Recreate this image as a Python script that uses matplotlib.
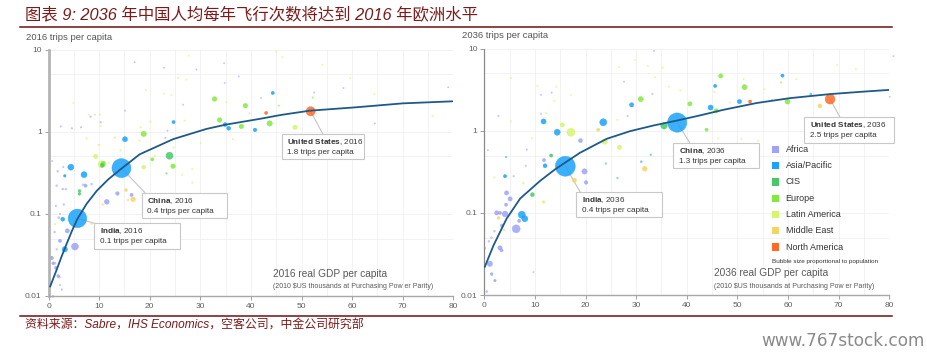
import matplotlib
matplotlib.use("Agg")
import matplotlib.pyplot as plt
from matplotlib.patches import Rectangle
from matplotlib.lines import Line2D
from matplotlib.ticker import NullFormatter
from matplotlib.colors import to_rgba
import numpy as np

plt.rcParams['font.family'] = ['Liberation Sans', 'DejaVu Sans']
plt.rcParams['mathtext.fontset'] = 'custom'
plt.rcParams['mathtext.rm'] = 'Liberation Sans'
plt.rcParams['mathtext.bf'] = 'Liberation Sans:bold'

# ---------------- data ----------------
regions = ['Africa', 'Asia/Pacific', 'CIS', 'Europe', 'Latin America', 'Middle East', 'North America']
region_colors = ['#9ea3f7', '#1aa3fb', '#47c96a', '#82ea3c', '#d6f56e', '#f5d466', '#ff6a28']

# 2016 panel: (GDP per capita k$, trips per capita, population m)
gdp16_africa = [13.6, 16.4, 11.5, 7.3, 3.7, 5.2, 0.6, 0.9, 1.46, 1.9, 2.25, 1.8, 2.8, 3.4, 1.6, 6.8, 8.5, 1.46, 2.25, 1.6,
                2.25, 0.9, 0.7, 2.9, 17.0, 22.8, 29.2, 34.7, 37.6, 34.8, 26.6, 15.1, 8.3, 10.3, 2.4, 4.6, 6.4, 23.5, 23.1,
                58.3, 52.5, 42.0, 79.0, 64.5, 0.4, 1.26, 2.1, 0.8, 2.6, 1.2, 2.0, 3.0]
trips16_africa = [0.177, 0.17, 0.14, 0.22, 0.062, 0.040, 0.029, 0.025, 0.022, 0.0175, 0.047, 0.33, 0.20, 0.20, 0.22, 0.226,
                  0.23, 0.125, 0.10, 0.037, 0.0136, 0.010, 0.44, 0.37, 7.0, 6.0, 5.7, 6.8, 4.7, 3.9, 2.13, 1.8, 1.52, 1.3,
                  1.16, 1.10, 1.13, 1.03, 0.84, 3.4, 3.0, 2.57, 3.47, 1.26, 0.0298, 0.025, 0.017, 0.0098, 0.012, 0.06,
                  0.09, 0.13]
pop16_africa = [50, 40, 90, 40, 70, 190, 50, 30, 40, 30, 40, 15, 15, 15, 15, 15, 15, 12, 12, 12, 10, 10, 8, 10, 8, 8, 8,
                8, 8, 8, 8, 8, 10, 10, 10, 10, 10, 10, 10, 8, 8, 8, 8, 8, 20, 20, 20, 12, 12, 15, 20, 15]

gdp16_asia = [14.4, 5.7, 4.4, 7.0, 15.1, 34.9, 35.6, 40.8, 44.3, 24.7, 2.8, 3.2, 3.2]
trips16_asia = [0.36, 0.088, 0.37, 0.30, 0.81, 1.22, 1.10, 1.05, 2.96, 1.31, 0.086, 0.037, 0.29]
pop16_asia = [1380, 1320, 140, 140, 100, 60, 60, 50, 40, 40, 60, 110, 25]

gdp16_cis = [23.9, 6.1, 6.1, 23.3, 10.6]
trips16_cis = [0.51, 0.19, 0.175, 0.31, 0.39]
pop16_cis = [190, 30, 30, 10, 60]

gdp16_europe = [10.8, 18.8, 20.5, 24.6, 32.8, 38.9, 33.8, 38.1, 43.7, 52.2, 45.5]
trips16_europe = [0.41, 0.94, 0.46, 0.38, 2.5, 2.07, 1.39, 1.16, 1.26, 2.6, 2.07]
pop16_europe = [80, 110, 40, 80, 80, 80, 80, 80, 110, 10, 10]

gdp16_latam = [10.5, 18.8, 9.3, 48.7, 1.26, 11.9, 28.4, 26.4, 28.4, 27.7, 25.6, 27.2, 19.2, 22.8, 24.3, 35.1, 30.1, 4.9,
               8.0, 10.1, 10.3, 18.2, 20.1, 26.9, 7.5, 18.0, 24.7, 21.0, 45.0, 46.2, 54.1, 59.6, 64.4, 75.9]
trips16_latam = [0.40, 0.37, 0.50, 1.13, 0.075, 0.42, 0.24, 0.30, 0.35, 8.4, 4.5, 4.3, 3.2, 2.9, 2.8, 2.28, 0.73, 2.24,
                 1.61, 1.61, 1.17, 1.13, 1.32, 1.36, 0.83, 0.78, 0.64, 0.51, 9.45, 8.05, 6.5, 4.5, 2.88, 1.55]
pop16_latam = [200, 60, 70, 80, 12, 10, 10, 10, 10, 8, 8, 8, 8, 8, 8, 8, 8, 8, 10, 10, 10, 10, 10, 10, 10, 10, 10, 10,
               8, 8, 8, 8, 8, 8]

gdp16_mideast = [16.7, 10.7, 15.7, 15.3, 8.5, 39.7, 36.4, 9.2, 13.1, 9.9, 14.2]
trips16_mideast = [0.15, 0.13, 0.147, 0.195, 0.076, 1.67, 0.81, 1.61, 0.85, 0.69, 0.59]
pop16_mideast = [80, 15, 12, 30, 15, 8, 8, 10, 10, 10, 10]

gdp16_namerica = [51.8, 43.0]
trips16_namerica = [1.77, 1.69]
pop16_namerica = [323, 40]

# 2036 panel
gdp36_africa = [19.0, 11.8, 19.8, 20.1, 4.4, 5.1, 4.3, 2.45, 3.1, 4.1, 6.9, 6.3, 3.5, 2.0, 1.4, 0.9, 3.1, 3.4, 0.15, 1.1,
                1.45, 2.1, 0.5, 9.7, 8.2, 5.8, 11.2, 13.3, 11.2, 2.8, 28.3, 33.2, 27.6, 33.5, 80.8, 80.1, 8.4, 0.7]
trips36_africa = [0.76, 0.44, 0.32, 0.235, 0.175, 0.148, 0.126, 0.10, 0.10, 0.097, 0.08, 0.064, 0.07, 0.06, 0.05, 0.045,
                  0.0375, 0.035, 0.037, 0.024, 0.018, 0.015, 0.011, 0.019, 0.375, 0.28, 2.74, 2.92, 1.61, 1.52, 1.52,
                  2.81, 3.97, 9.4, 8.1, 2.6, 0.59, 0.58]
pop36_africa = [60, 40, 110, 50, 70, 70, 40, 70, 40, 130, 40, 240, 40, 15, 15, 15, 70, 40, 12, 110, 30, 25, 20, 8, 10,
                10, 8, 8, 10, 10, 10, 10, 8, 8, 8, 8, 10, 8]

gdp36_asia = [38.1, 16.0, 23.5, 14.4, 11.7, 29.1, 44.7, 45.6, 50.4, 58.9, 64.5, 12.0, 31.0, 4.1, 7.4, 8.0, 4.3]
trips36_asia = [1.26, 0.37, 1.27, 0.96, 1.30, 2.07, 1.92, 3.52, 2.27, 4.7, 2.79, 0.375, 0.42, 0.28, 0.095, 0.085, 0.48]
pop36_asia = [1420, 1520, 190, 140, 100, 70, 100, 40, 70, 40, 20, 60, 15, 40, 190, 140, 10]

gdp36_cis = [35.5, 13.2, 32.9, 24.0, 26.3, 9.5]
trips36_cis = [1.15, 0.50, 0.51, 0.40, 0.266, 0.167]
pop36_cis = [160, 40, 15, 12, 12, 60]

gdp36_europe = [30.9, 40.6, 45.8, 46.7, 51.4, 59.9, 43.9, 56.8, 58.6]
trips36_europe = [2.43, 2.13, 1.75, 4.66, 3.4, 2.27, 1.03, 2.38, 3.87]
pop36_europe = [100, 70, 70, 70, 100, 100, 40, 10, 10]

gdp36_latam = [17.1, 15.4, 23.8, 26.7, 11.7, 7.7, 2.0, 5.3, 10.5, 14.2, 13.8, 17.1, 12.2, 5.3, 26.0, 26.3, 33.7, 32.3,
               29.8, 26.6, 35.2, 36.5, 38.7, 48.5, 51.2, 45.4, 55.3, 61.6, 69.7, 73.4, 46.2, 50.8, 54.1, 9.4, 12.4]
trips36_latam = [0.96, 1.18, 0.74, 0.63, 0.136, 0.23, 0.27, 4.37, 3.52, 3.45, 2.31, 2.74, 1.64, 1.30, 0.84, 1.36, 4.5,
                 6.2, 7.3, 6.0, 5.9, 3.45, 3.1, 2.21, 4.25, 3.0, 3.21, 4.25, 6.3, 5.66, 0.81, 0.80, 0.76, 0.81, 1.25]
pop36_latam = [250, 70, 110, 70, 25, 20, 10, 8, 8, 8, 8, 8, 10, 10, 10, 10, 8, 8, 8, 8, 8, 8, 8, 8, 8, 8, 8, 8, 8, 8,
               8, 8, 8, 8, 10]

gdp36_mideast = [66.3, 17.8, 31.7, 2.8, 3.9, 22.5]
trips36_mideast = [2.01, 0.25, 0.345, 0.087, 0.062, 1.03]
pop36_mideast = [60, 70, 90, 30, 20, 40]

gdp36_namerica = [68.3, 52.5]
trips36_namerica = [2.43, 2.27]
pop36_namerica = [370, 40]

# fitted trend curves
curve16_x = [0.3, 0.9, 1.6, 2.5, 3.6, 4.6, 5.7, 7.5, 9.5, 11.8, 14.4, 18.0, 24.6, 31.2, 35.1, 41.7, 46.0, 51.6, 60.8,
             70.0, 79.8]
curve16_y = [0.013, 0.0162, 0.0209, 0.0295, 0.0437, 0.0617, 0.087, 0.132, 0.19, 0.263, 0.355, 0.53, 0.81, 1.08, 1.22,
             1.43, 1.6, 1.80, 1.98, 2.21, 2.34]
curve36_x = [0.1, 1.8, 4.4, 7.1, 11.0, 14.0, 18.9, 24.2, 28.8, 33.4, 38.0, 42.6, 47.2, 53.8, 60.4, 68.3, 74.9, 80.0]
curve36_y = [0.022, 0.040, 0.085, 0.15, 0.245, 0.34, 0.54, 0.80, 0.99, 1.16, 1.33, 1.54, 1.80, 2.18, 2.5, 2.8, 3.0,
             3.15]

# callouts
callout_names = ['United States', 'China', 'India']
callout16_gdp = [51.8, 14.4, 5.7]
callout16_trips = [1.77, 0.36, 0.088]
callout16_text = ['1.8', '0.4', '0.1']
callout36_gdp = [68.3, 38.1, 16.0]
callout36_trips = [2.43, 1.26, 0.37]
callout36_text = ['2.5', '1.3', '0.4']

x_ticks = [0, 10, 20, 30, 40, 50, 60, 70, 80]
y_ticks = [0.01, 0.1, 1, 10]
y_tick_labels = ['0.01', '0.1', '1', '10']

title_text = '图表 9: 2036 年中国人均每年飞行次数将达到 2016 年欧洲水平'
source_text = '资料来源：Sabre，IHS Economics，空客公司，中金公司研究部'

# ---------------- figure ----------------
W, H = 928, 356
fig = plt.figure(figsize=(W / 100, H / 100), dpi=100)


def fx(px):
    return px / W


def fy(py):
    return 1 - py / H


ax1 = fig.add_axes([fx(48.6), fy(296), (453.3 - 48.6) / W, (296 - 49.5) / H])
ax2 = fig.add_axes([fx(484.3), fy(295), (889.3 - 484.3) / W, (295 - 48.7) / H])

data16 = [(gdp16_africa, trips16_africa, pop16_africa), (gdp16_asia, trips16_asia, pop16_asia),
          (gdp16_cis, trips16_cis, pop16_cis), (gdp16_europe, trips16_europe, pop16_europe),
          (gdp16_latam, trips16_latam, pop16_latam), (gdp16_mideast, trips16_mideast, pop16_mideast),
          (gdp16_namerica, trips16_namerica, pop16_namerica)]
data36 = [(gdp36_africa, trips36_africa, pop36_africa), (gdp36_asia, trips36_asia, pop36_asia),
          (gdp36_cis, trips36_cis, pop36_cis), (gdp36_europe, trips36_europe, pop36_europe),
          (gdp36_latam, trips36_latam, pop36_latam), (gdp36_mideast, trips36_mideast, pop36_mideast),
          (gdp36_namerica, trips36_namerica, pop36_namerica)]

SIZE_SCALE = 0.136


def draw_panel(ax, data, cx, cy, left_spine_style):
    xs, ys, ps, cs = [], [], [], []
    for (gx, ty, pp), col in zip(data, region_colors):
        xs += gx
        ys += ty
        ps += pp
        cs += [col] * len(gx)
    order = np.argsort(ps)[::-1]
    xs = np.array(xs)[order]
    ys = np.array(ys)[order]
    ps = np.array(ps, dtype=float)[order]
    rgba = [to_rgba(cs[i], 0.85 if ps[k] >= 25 else 0.55) for k, i in enumerate(order)]
    ax.scatter(xs, ys, s=ps * SIZE_SCALE, c=rgba, edgecolors=rgba, linewidths=0.3, zorder=2, clip_on=False)
    ax.plot(cx, cy, color='#1d5a8a', lw=1.3, zorder=3, solid_capstyle='round')

    ax.set_yscale('log')
    ax.set_xlim(0, 80)
    ax.set_ylim(0.01, 10)
    ax.set_xticks(x_ticks)
    ax.set_xticks([5, 15, 25, 35, 45, 55, 65, 75], minor=True)
    ax.set_yticks(y_ticks)
    ax.set_yticklabels(y_tick_labels)
    ax.set_yticks([0.05, 0.5, 5], minor=True)
    ax.yaxis.set_minor_formatter(NullFormatter())
    ax.grid(which='both', color='#f0f0f0', lw=0.6)
    ax.set_axisbelow(True)
    ax.tick_params(which='major', length=3, width=0.6, color='#909090', labelsize=6, labelcolor='#606060', pad=2)
    ax.tick_params(which='minor', length=0)
    for s in ['top', 'right']:
        ax.spines[s].set_visible(False)
    ax.spines['bottom'].set_color('#a8a8a8')
    ax.spines['bottom'].set_linewidth(1.0)
    ax.spines['left'].set_color(left_spine_style[0])
    ax.spines['left'].set_linewidth(left_spine_style[1])


draw_panel(ax1, data16, curve16_x, curve16_y, ('#b4b4b4', 2.0))
draw_panel(ax2, data36, curve36_x, curve36_y, ('#8a8a8a', 0.9))

# axis titles
fig.text(fx(26), fy(37), '2016 trips per capita', fontsize=6.8, color='#555555', va='center')
fig.text(fx(462.5), fy(36), '2036 trips per capita', fontsize=6.8, color='#555555', va='center')
fig.text(fx(273), fy(274), '2016 real GDP per capita', fontsize=7.3, color='#595959', va='center')
fig.text(fx(273), fy(286), r'(2010 \$US thousands at Purchasing Pow er Parity)', fontsize=5.0, color='#595959',
         va='center')
fig.text(fx(714), fy(273), '2036 real GDP per capita', fontsize=7.3, color='#595959', va='center')
fig.text(fx(714), fy(286), r'(2010 \$US thousands at Purchasing Pow er Parity)', fontsize=5.0, color='#595959',
         va='center')


# callout boxes (pixel layout)
def callout(ax, name, year, val, gx, ty, box, anchor):
    x0, y0, x1, y1 = box
    ax.annotate('', xy=(gx, ty), xycoords='data', xytext=(fx(anchor[0]), fy(anchor[1])),
                textcoords='figure fraction',
                arrowprops=dict(arrowstyle='-', color='#c4c4c4', lw=0.8, shrinkA=0, shrinkB=0), zorder=1.5)
    fig.add_artist(Rectangle((fx(x0), fy(y1)), (x1 - x0) / W, (y1 - y0) / H, transform=fig.transFigure,
                             facecolor='white', edgecolor='#c8c8c8', lw=0.8, zorder=5))
    nm = name.replace(' ', r'\ ')
    fig.text(fx(x0 + 5.5), fy(y0 + 8.2), r'$\mathbf{' + nm + '}$, ' + year, fontsize=5.9, color='#333333',
             va='center', zorder=6)
    fig.text(fx(x0 + 5.5), fy(y0 + 18.4), val + ' trips per capita', fontsize=5.9, color='#333333',
             va='center', zorder=6)


boxes16 = [(281.7, 134.3, 364.3, 159.3), (141.7, 192.7, 227.3, 218.3), (94.3, 223.3, 180.3, 248.7)]
anchors16 = [(323, 134.3), (145, 192.7), (94.3, 223.3)]
boxes36 = [(804.3, 117.3, 894.3, 142.7), (673.3, 143.3, 759.3, 167.7), (576, 191.7, 662, 217.3)]
anchors36 = [(840, 117.3), (690, 143.3), (580, 191.7)]
for i in range(3):
    callout(ax1, callout_names[i], '2016', callout16_text[i], callout16_gdp[i], callout16_trips[i],
            boxes16[i], anchors16[i])
    callout(ax2, callout_names[i], '2036', callout36_text[i], callout36_gdp[i], callout36_trips[i],
            boxes36[i], anchors36[i])

# legend
for i, (name, col) in enumerate(zip(regions, region_colors)):
    cy_ = 149.3 + i * 16.3
    fig.add_artist(Rectangle((fx(771.6), fy(cy_ + 3.6)), 7.3 / W, 7.3 / H, transform=fig.transFigure,
                             facecolor=col, edgecolor='none', zorder=5))
    fig.text(fx(785.7), fy(cy_), name, fontsize=6.5, color='#333333', va='center')
fig.text(fx(771.7), fy(261.7), 'Bubble size proportional to population', fontsize=4.6, color='#333333', va='center')

# title, rules, source, watermark
cjk = ['Liberation Sans', 'Noto Sans CJK SC']
fig.text(fx(25), fy(14.7), title_text, family=cjk, style='italic', fontsize=11.8, color='#7b1a1a', va='center')
fig.add_artist(Line2D([fx(20), fx(892)], [fy(27.3), fy(27.3)], color='#6e0f0f', lw=1.1, transform=fig.transFigure))
fig.add_artist(Line2D([fx(20), fx(892)], [fy(315.7), fy(315.7)], color='#6e0f0f', lw=1.1, transform=fig.transFigure))
fig.text(fx(25), fy(325.5), source_text, family=cjk, style='italic', fontsize=8.6, color='#7b1a1a', va='center')
fig.text(fx(925), fy(341), 'www.767stock.com', family=['DejaVu Sans'], fontsize=12.2, color='#8a8a8a',
         ha='right', va='center')

fig.savefig('out.png', dpi=100)
